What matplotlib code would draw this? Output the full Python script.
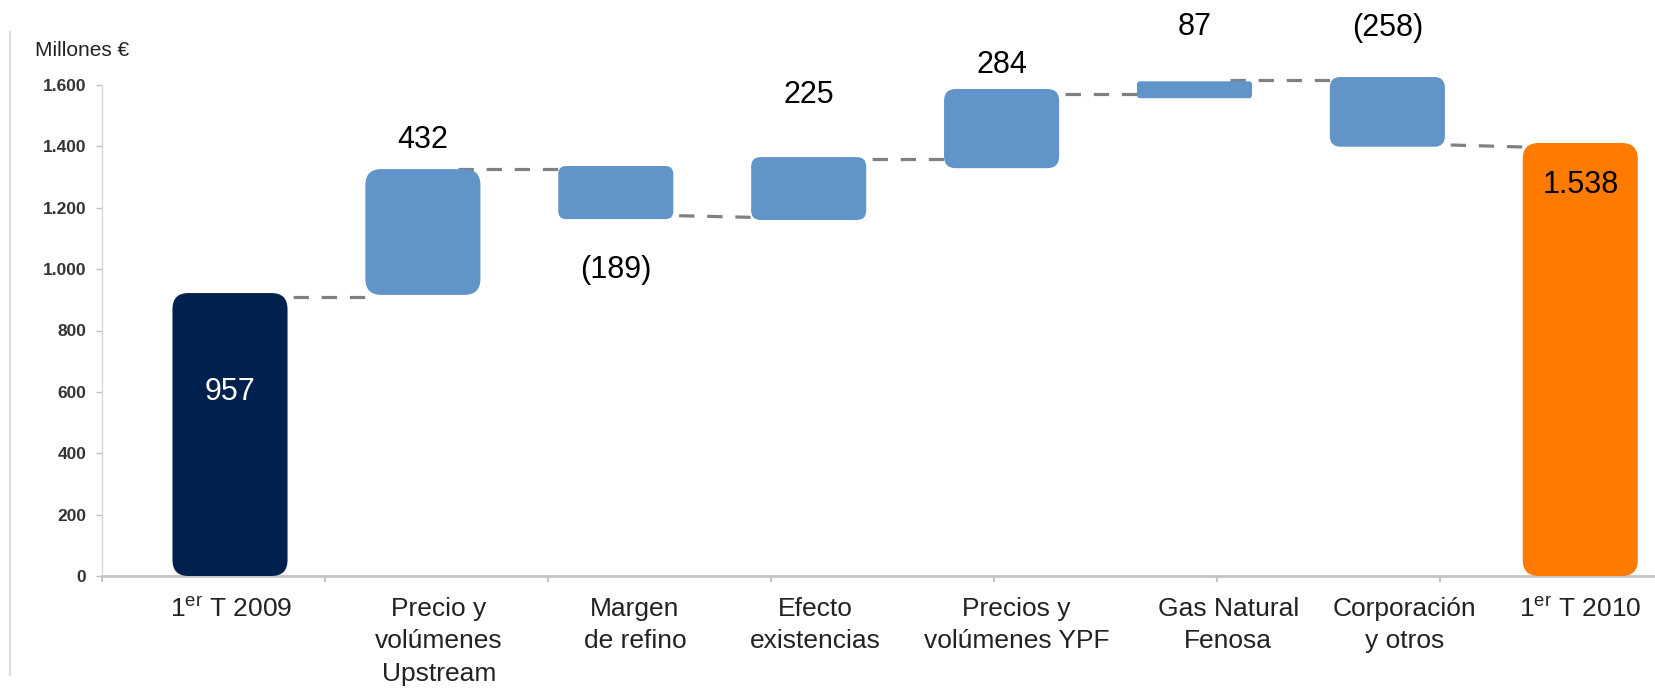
import matplotlib
matplotlib.use("Agg")
import matplotlib.pyplot as plt
from matplotlib.patches import FancyBboxPatch
from matplotlib.lines import Line2D

plt.rcParams['font.family'] = ['Liberation Sans', 'DejaVu Sans']
plt.rcParams['mathtext.fontset'] = 'custom'
plt.rcParams['mathtext.rm'] = 'Liberation Sans'

# categorias
labels = ["1$^{\\mathrm{er}}$ T 2009", "Precio y\nvolúmenes\nUpstream", "Margen\nde refino",
          "Efecto\nexistencias", "Precios y\nvolúmenes YPF", "Gas Natural\nFenosa",
          "Corporación\ny otros", "1$^{\\mathrm{er}}$ T 2010"]
# etiquetas de valor
value_txt = ["957", "432", "(189)", "225", "284", "87", "(258)", "1.538"]
# extremos de las barras
bar_low = [0, 916, 1163, 1160, 1329, 1557, 1399, 0]
bar_high = [922, 1326, 1336, 1365, 1587, 1612, 1626, 1411]
# altura de las etiquetas
txt_y = [600, 1420, 997, 1567, 1665, 1789, 1785, 1274]
# lineas de union (inicio, fin)
link_a = [909, 1326, 1176, 1359, 1570, 1615, 1407]
link_b = [909, 1326, 1168, 1359, 1570, 1615, 1397]

colors = ["#00214d"] + ["#6195ca"] * 6 + ["#ff7b00"]
txt_col = ["white"] + ["black"] * 7
lab_x = [0.58, 1.51, 2.39, 3.20, 4.10, 5.05, 5.84, 6.63]

W, H = 1655, 691
fig = plt.figure(figsize=(W / 100, H / 100), dpi=100)
ax = fig.add_axes([102 / W, 1 - 576 / H, (W - 102) / W, 491 / H])
xmax = (W - 102) / 223
ax.set_xlim(0, xmax)
ax.set_ylim(0, 1600)

px_x = 223.0
px_y = 491 / 1600
aspect = px_x / px_y

pos = [0.574 + 0.865 * i for i in range(len(labels))]
bw = 0.516

for i in range(len(labels)):
    h = bar_high[i] - bar_low[i]
    r_px = min(16, max(3, 0.15 * h * px_y))
    p = FancyBboxPatch((pos[i] - bw / 2, bar_low[i]), bw, h,
                       boxstyle="round,pad=0,rounding_size=%f" % (r_px / px_x),
                       mutation_aspect=aspect, fc=colors[i], ec="none", zorder=3,
                       clip_on=False)
    ax.add_patch(p)
    ax.text(pos[i], txt_y[i], value_txt[i], ha="center", va="center", fontsize=22,
            color=txt_col[i], zorder=4, clip_on=False)

for i in range(len(link_a)):
    ax.plot([pos[i] + bw / 2 - 0.1, pos[i + 1] - bw / 2 + 0.05], [link_a[i], link_b[i]],
            color="#808080", lw=2.3, dashes=(4.8, 4), zorder=2, clip_on=False)

# ejes
for s in ["top", "right"]:
    ax.spines[s].set_visible(False)
ax.spines["left"].set_color("#d9d9d9")
ax.spines["left"].set_linewidth(1)
ax.spines["bottom"].set_color("#c4c4c4")
ax.spines["bottom"].set_linewidth(2)

yt = list(range(0, 1601, 200))
ax.set_yticks(yt)
ax.set_yticklabels(["{:,}".format(v).replace(",", ".") for v in yt])
ax.tick_params(axis="y", direction="out", length=4.3, width=1, color="#bfbfbf",
               labelsize=12.5, labelcolor="#333333", pad=7)
for t in ax.get_yticklabels():
    t.set_fontweight("bold")

ax.set_xticks(range(0, 7))
ax.set_xticklabels([])
ax.tick_params(axis="x", which="major", direction="out", length=4.5, width=1.5,
               color="#c4c4c4")
ax.set_xticks(lab_x, minor=True)
ax.set_xticklabels(labels, minor=True, fontsize=19, color="#222222", linespacing=1.45)
ax.tick_params(axis="x", which="minor", length=0, pad=15)

fig.text(35 / W, 1 - 51 / H, "Millones €", fontsize=15, color="#222222", va="center")
fig.add_artist(Line2D([10 / W, 10 / W], [1 - 32 / H, 1 - 675 / H], color="#dcdcdc",
                      lw=1.5))

fig.savefig("out.png", dpi=100)
